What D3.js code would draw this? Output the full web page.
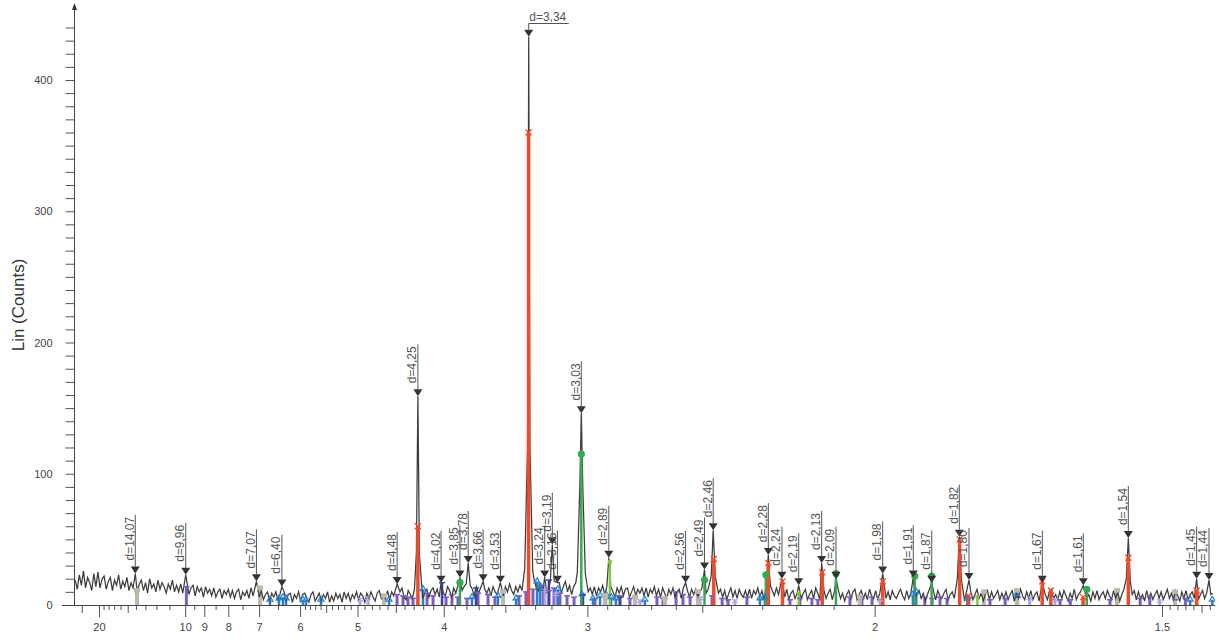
<!DOCTYPE html>
<html><head><meta charset="utf-8">
<script src="https://cdn.jsdelivr.net/npm/d3@7"></script>
<style>
body{margin:0;background:#fff}
svg{display:block}
text{font-family:Arial,"Liberation Sans",sans-serif}
</style>
</head><body>
<svg id="chart" width="1219" height="644"></svg>
<script>
// ---------------- data ----------------
const xDomainD = [27.71, 1.4338];          // d-spacing range of the plot (Å)
const yDomain = [0, 455];                   // Lin (Counts)
const scanStartInvD = 0.0362;               // scan grid in 1/d
const scanStepInvD = 0.0012;
const scanCounts = [
19,12,23,15,26,13,21,17,11,24,14,25,13,20,22,12,18,21,11,19,15,23,12,18,14,
21,11,17,13,20,10,16,19,11,17,9,20,13,16,10,19,12,17,14,9,16,12,19,10,15,
10,16,9,14,17,8,13,15,7,14,10,13,6,14,9,12,7,13,6,10,12,5,11,8,12,
6,11,5,10,12,4,10,7,11,5,13,7,4,10,6,11,4,8,10,3,9,6,10,4,8,
4,10,3,8,9,2,8,5,10,3,8,9,5,2,8,10,3,6,9,3,8,5,10,2,7,
3,9,5,8,2,10,5,9,3,8,5,10,4,9,7,2,9,5,10,6,3,9,11,5,8,
5,11,4,10,7,12,5,10,13,6,4,11,8,5,12,7,11,14,5,9,12,6,11,13,8,
12,6,13,9,7,14,11,6,13,9,15,7,11,14,6,13,9,12,7,14,9,13,6,12,9,
13,7,14,10,8,15,12,7,14,10,16,11,8,14,10,15,11,17,12,9,16,12,18,13,11,
17,10,15,9,18,12,8,15,11,17,9,14,18,10,15,8,14,17,9,12,15,8,14,10,13,
8,14,7,13,10,15,8,13,7,14,10,6,13,9,14,7,12,13,6,10,14,7,12,9,13,
7,13,6,12,9,14,7,12,6,13,9,5,12,8,13,6,10,12,5,13,8,11,6,12,8,
12,6,10,13,5,9,12,6,14,10,5,9,12,6,11,4,9,13,6,11,5,12,8,6,11,
6,12,5,11,8,13,6,11,4,9,12,5,11,7,13,8,5,11,6,12,4,9,11,5,9,
11,5,9,12,4,8,11,5,13,9,4,8,11,5,9,12,4,10,7,11,5,9,3,8,11,
5,10,12,4,8,11,5,9,4,12,7,5,11,4,9,7,12,5,10,4,11,7,5,9,12,
7,4,11,5,9,13,4,8,11,5,9,3,8,12,5,10,4,11,7,5,9,12,4,8,10,
5,11,4,9,7,3,11,5,10,4,8,12,5,9,3,8,11,4,10,5,8,11,4,9,5,
10,4,8,11,3,9,5,12,7,4,10,5,11,4,8,10,3,11,5,8,4,10,12,5,8,
4,10,5,11,7,3,9,5,12,4,8,10,4,11,5,8,3,10,5,11,4,8,10,5,11,
7,4,11,5,10,3,8,12,5,9,4,8,11,4,10,5,8,3,11,5,9,4,8,11,5,
10,4,8,12,5,9,4,11,7,3,10,5,11,4,8,10,5,12,4,8,11,5,9,4,8,
9
];
// measured peak profile points [d, counts]
const peakPoints = [
[14.075,24],[9.965,23],[7.075,18],[6.405,14],[4.485,16],
[4.2708,40],[4.255,159],[4.2393,38],
[4.025,17],[3.855,21],
[3.8017,16],[3.785,32],[3.7684,15],
[3.665,18],[3.535,17],
[3.3671,28],[3.3488,120],[3.341,433],[3.3332,120],[3.3153,26],
[3.2406,21],
[3.2069,18],[3.195,46],[3.1832,18],
[3.165,17],
[3.0534,25],[3.04,90],[3.032,146],[3.024,90],[3.0108,24],
[2.9017,14],[2.892,36],[2.8823,14],
[2.562,17],[2.492,27],
[2.468,22],[2.461,57],[2.454,22],
[2.2875,16],[2.2815,38],[2.2755,15],
[2.241,20],[2.1933,15],[2.131,32],[2.0939,20],[1.9815,24],[1.9142,21],[1.8758,17],
[1.825,20],[1.8211,52],[1.8173,20],
[1.8027,19],[1.6743,17],[1.6102,15],
[1.548,20],[1.5452,51],[1.5424,18],
[1.456,20],[1.441,19]
];
// labelled peak markers
const markerD = [14.075,9.965,7.075,6.405,4.485,4.255,4.025,3.855,3.785,3.665,3.535,3.341,3.2406,3.195,3.165,3.032,2.892,2.562,2.492,2.461,2.2815,2.241,2.1933,2.131,2.0939,1.9815,1.9142,1.8758,1.8211,1.8027,1.6743,1.6102,1.5452,1.456,1.441];
const markerI = [24,23,18,14,16,159,17,21,32,18,17,433,21,46,17,146,36,17,27,57,38,20,15,32,20,24,21,17,52,19,17,15,51,20,19];

// reference phase sticks
const quartzD = [4.255,3.342,2.459,2.2815,2.2395,2.1295,1.9815,1.8205,1.8035,1.6745,1.6605,1.6105,1.5452,1.456];
const quartzI = [60,360,35,32,18,25,18,50,7,18,11,6,36,11];
const calciteD = [3.855,3.032,2.492,2.289,2.094,1.911,1.876,1.605];
const calciteI = [17,115,19,23,24,22,22,12];
const dolomiteD = [2.887,2.193,1.787];
const dolomiteI = [33,9,6];
const purpleD = [9.93,4.486,4.417,4.362,4.307,4.161,4.102,3.979,3.925,3.872,3.795,3.705,3.627,3.575,3.405,3.359,3.314,3.251,3.215,3.185,3.150,3.110,3.071,2.961,2.839,2.793,2.676,2.651,2.599,2.572,2.545,2.465,2.430,2.410,2.348,2.218,2.190,2.157,2.141,2.059,2.030,2.006,1.890,1.875,1.859,1.845,1.764,1.737,1.646,1.630,1.571,1.529,1.516,1.483,1.470];
const purpleI = [14,8,7,6,5,9,7,6,8,6,5,9,8,6,7,10,12,15,11,13,9,7,6,5,7,5,6,5,10,8,6,7,5,4,6,4,5,5,4,6,5,6,6,5,6,5,4,5,4,4,4,5,6,4,5];
const lavenderD = [4.965,4.853,3.239,3.173,2.748,2.508,2.387,1.988,1.695,1.654,1.503];
const lavenderI = [5,6,12,9,4,6,4,5,6,5,4];
const blueD = [6.702,6.475,6.379,6.309,5.940,5.879,5.593,4.582,4.202,3.754,3.553,3.425,3.288,3.270,3.162,3.028,2.971,2.935,2.906,2.881,2.858,2.727,2.307,2.292,1.915,1.908,1.806,1.718,1.464,1.437];
const blueI = [4,5,6,5,4,4,4,4,12,6,7,5,18,14,12,8,5,7,8,6,5,4,5,6,8,10,5,8,4,4];
const darkBlueD = [4.016,3.721,3.215,3.023,2.839,1.715];
const darkBlueI = [17,13,19,8,6,6];
const grayD = [13.878,6.973,4.644,3.516,2.911,2.770,2.643,2.516,2.035,1.775,1.7165,1.561,1.483];
const grayI = [11,13,7,10,7,6,5,10,6,10,11,11,10];

// axis ticks
const xLabelTicks = [20,10,9,8,7,6,5,4,3,2,1.5];
const xMidTicks = [25,15,5.5,4.5,3.5,2.5,1.45];
const xMinorTicks = [19,18,17,16,14,13,12,11,9.5,8.5,7.5,6.5,5.9,5.8,5.7,5.6,5.4,5.3,5.2,5.1,4.9,4.8,4.7,4.6,4.4,4.3,4.2,4.1,3.9,3.8,3.7,3.6,3.4,3.3,3.2,3.1,2.9,2.8,2.7,2.6,2.4,2.3,2.2,2.1,1.49,1.48,1.47,1.46,1.44];
const yLabelTicks = [0,100,200,300,400];
const yTickStep = 10, yTickMax = 440;

// ---------------- drawing ----------------
(function(){
const svg = d3.select('#chart');
const pLeft = 75, pRight = 1215, pBottom = 605, pTop = 7.8;
const xq = d3.scaleLinear().domain(xDomainD.map(d => 1/d)).range([pLeft, pRight]);
const X = d => xq(1/d);
const y = d3.scaleLinear().domain(yDomain).range([pBottom, pTop]);

svg.append('defs').append('clipPath').attr('id','plot')
  .append('rect').attr('x',pLeft).attr('y',0).attr('width',pRight-pLeft).attr('height',pBottom);

const phases = [
  {d: purpleD, i: purpleI, color:'#7a5ec0', marker:'T', w:3, over:false},
  {d: lavenderD, i: lavenderI, color:'#b2a5e0', marker:'=', w:3, over:false},
  {d: blueD, i: blueI, color:'#2a7fc9', marker:'tri', w:2.5, over:false},
  {d: darkBlueD, i: darkBlueI, color:'#3645a5', marker:'T', w:2.5, over:false},
  {d: grayD, i: grayI, color:'#bdb9ae', marker:'sq', w:4, over:false},
  {d: dolomiteD, i: dolomiteI, color:'#84c441', marker:'dot', w:2.5, over:true},
  {d: calciteD, i: calciteI, color:'#39a852', marker:'circle', w:2.5, over:true},
  {d: quartzD, i: quartzI, color:'#ef4b2a', marker:'x', w:3.5, over:true}
];

const gUnder = svg.append('g').attr('clip-path','url(#plot)');
const gLine = svg.append('g').attr('clip-path','url(#plot)');
const gOver = svg.append('g').attr('clip-path','url(#plot)');
const gMarks = svg.append('g').attr('clip-path','url(#plot)');

function drawSticks(g, ph){
  const data = d3.zip(ph.d, ph.i);
  g.selectAll(null).data(data).join('rect')
    .attr('x', p => X(p[0]) - ph.w/2)
    .attr('y', p => y(p[1]))
    .attr('width', ph.w)
    .attr('height', p => y(0) - y(p[1]))
    .attr('fill', ph.color);
}
function drawMarkers(g, ph){
  const data = d3.zip(ph.d, ph.i);
  data.forEach(p => {
    const px = X(p[0]), py = y(p[1]);
    if (ph.marker === 'x') {
      g.append('path').attr('d', `M${px-3},${py-3}L${px+3},${py+3}M${px-3},${py+3}L${px+3},${py-3}`)
        .attr('stroke', ph.color).attr('stroke-width',1.3).attr('fill','none');
    } else if (ph.marker === 'circle') {
      g.append('circle').attr('cx',px).attr('cy',py).attr('r',3.6).attr('fill',ph.color);
    } else if (ph.marker === 'dot') {
      g.append('circle').attr('cx',px).attr('cy',py).attr('r',2.2).attr('fill',ph.color);
    } else if (ph.marker === 'T') {
      g.append('path').attr('d', `M${px-3},${py}L${px+3},${py}`)
        .attr('stroke', ph.color).attr('stroke-width',1.5);
    } else if (ph.marker === '=') {
      g.append('path').attr('d', `M${px-3},${py}L${px+3},${py}M${px-3},${py+2.5}L${px+3},${py+2.5}`)
        .attr('stroke', ph.color).attr('stroke-width',1.2);
    } else if (ph.marker === 'tri') {
      g.append('path').attr('d', `M${px},${py-3.5}L${px+3},${py+1.5}L${px-3},${py+1.5}Z`)
        .attr('stroke', ph.color).attr('stroke-width',1.2).attr('fill','none');
    } else if (ph.marker === 'sq') {
      g.append('rect').attr('x',px-3).attr('y',py-2.5).attr('width',6).attr('height',4.5).attr('fill',ph.color);
    }
  });
}

phases.filter(p => !p.over).forEach(p => drawSticks(gUnder, p));

// measured pattern
const bg = scanCounts.map((c,i) => ({q: scanStartInvD + i*scanStepInvD, c}));
const pk = peakPoints.map(([d,c]) => ({q: 1/d, c}));
const kept = bg.filter(p => !pk.some(k => Math.abs(k.q - p.q) < 0.0009));
const pattern = kept.concat(pk).sort((a,b) => a.q - b.q);
gLine.append('path').datum(pattern)
  .attr('d', d3.line().x(p => xq(p.q)).y(p => y(p.c)))
  .attr('fill','none').attr('stroke','#3d3d3d').attr('stroke-width',1.25).attr('stroke-linejoin','miter');

phases.filter(p => p.over).forEach(p => drawSticks(gOver, p));
phases.forEach(p => drawMarkers(gMarks, p));

// peak annotations
const gAnn = svg.append('g');
d3.zip(markerD, markerI).forEach(([d, I]) => {
  const px = X(d), py = y(I);
  const label = 'd=' + (Math.floor(d*100 + 1e-6)/100).toFixed(2).replace('.', ',');
  const t = gAnn.append('text').attr('font-size', 12).attr('fill','#555').text(label);
  const len = t.node().getComputedTextLength();
  const triTop = py - 7;
  const startY = py - 13;
  if (startY - len < 8) {
    const ly = 23.5;
    t.attr('x', px + 0.5).attr('y', ly - 3);
    gAnn.append('path').attr('d', `M${px},${triTop}L${px},${ly}L${px + len + 3},${ly}`)
      .attr('stroke','#555').attr('fill','none').attr('stroke-width',1);
  } else {
    t.attr('x', px - 1.5).attr('y', startY)
     .attr('transform', `rotate(-90,${px - 1.5},${startY})`);
    gAnn.append('line').attr('x1',px).attr('x2',px).attr('y1',triTop).attr('y2', startY - len - 2)
      .attr('stroke','#555').attr('stroke-width',1);
  }
  gAnn.append('path').attr('d', `M${px-4.5},${triTop}L${px+4.5},${triTop}L${px},${py}Z`).attr('fill','#333');
});

// axes
const axisColor = '#555';
function xTicks(vals, size, labels){
  const a = d3.axisBottom(xq).tickValues(vals.map(d => 1/d)).tickSize(size).tickPadding(6)
    .tickFormat(labels ? (q => String(Math.round(100/q)/100)) : '');
  const g = svg.append('g').attr('transform', `translate(0,${pBottom})`).call(a);
  g.select('.domain').remove();
  g.selectAll('line').attr('stroke', axisColor);
  g.selectAll('text').attr('fill','#444').attr('font-size',11).attr('font-family','Arial, "Liberation Sans", sans-serif');
}
xTicks(xMinorTicks, 5, false);
xTicks(xMidTicks, 8, false);
xTicks(xLabelTicks, 12, true);

const ya = d3.axisLeft(y).tickValues(d3.range(0, yTickMax + 1, yTickStep)).tickSize(9).tickPadding(13)
  .tickFormat(v => yLabelTicks.includes(v) ? String(v) : '');
const gy = svg.append('g').attr('transform', `translate(74.5,0)`).call(ya);
gy.select('.domain').remove();
gy.selectAll('line').attr('stroke', axisColor);
gy.selectAll('text').attr('fill','#444').attr('font-size',11).attr('font-family','Arial, "Liberation Sans", sans-serif');

svg.append('line').attr('x1',62).attr('x2',pRight).attr('y1',pBottom+0.5).attr('y2',pBottom+0.5).attr('stroke','#444');
svg.append('line').attr('x1',74.5).attr('x2',74.5).attr('y1',pBottom).attr('y2',5).attr('stroke','#444');
svg.append('path').attr('d','M74.5,3L72,10L77,10Z').attr('fill','#333');

svg.append('text').attr('transform','translate(24,305) rotate(-90)')
  .attr('text-anchor','middle').attr('font-size',17).attr('fill','#333').text('Lin (Counts)');
})();
</script>
</body></html>
